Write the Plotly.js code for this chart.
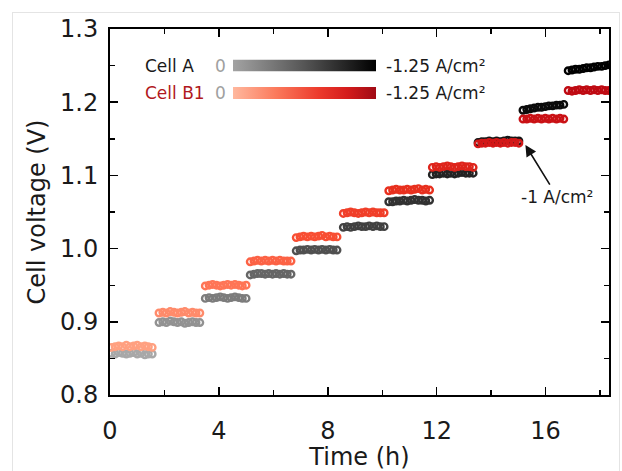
<!DOCTYPE html>
<html>
<head>
<meta charset="utf-8">
<script src="https://cdn.plot.ly/plotly-3.0.1.min.js"></script>
<style>
html,body{margin:0;padding:0;background:#fff;overflow:hidden;}
#frame{position:absolute;left:12px;top:12px;width:608px;height:470px;border:1px solid #e4e4e4;box-sizing:border-box;}
#chart{position:absolute;left:0;top:0;width:622px;height:471px;}
</style>
</head>
<body>
<div id="frame"></div>
<div id="chart"></div>
<script>
// ---- data ----
const currentDensity = [0, -0.125, -0.25, -0.375, -0.5, -0.625, -0.75, -0.875, -1.0, -1.125, -1.25]; // A/cm2 per step
const stepStart = [0.05, 1.8, 3.5, 5.15, 6.84, 8.57, 10.24, 11.84, 13.52, 15.17, 16.83]; // h
const sampleOffsets = [0, 0.14, 0.27, 0.41, 0.55, 0.68, 0.82, 0.95, 1.09, 1.23, 1.36, 1.5]; // h within a step

const cellA = [
  [0.857,0.856,0.858,0.857,0.856,0.857,0.858,0.856,0.857,0.855,0.856,0.856],
  [0.899,0.900,0.899,0.901,0.900,0.899,0.900,0.898,0.899,0.900,0.899,0.899],
  [0.932,0.933,0.932,0.933,0.934,0.933,0.932,0.933,0.934,0.933,0.932,0.932],
  [0.964,0.965,0.966,0.966,0.965,0.966,0.965,0.966,0.965,0.966,0.965,0.965],
  [0.997,0.998,0.998,0.999,0.998,0.999,0.998,0.999,0.998,0.999,0.998,0.998],
  [1.029,1.030,1.029,1.030,1.031,1.030,1.030,1.031,1.030,1.031,1.030,1.030],
  [1.064,1.064,1.065,1.065,1.066,1.065,1.066,1.067,1.066,1.066,1.065,1.066],
  [1.101,1.102,1.102,1.103,1.102,1.103,1.102,1.103,1.104,1.103,1.103,1.103],
  [1.145,1.146,1.146,1.147,1.146,1.147,1.146,1.147,1.148,1.147,1.147,1.147],
  [1.189,1.190,1.191,1.192,1.193,1.193,1.194,1.195,1.195,1.196,1.196,1.197],
  [1.243,1.244,1.245,1.245,1.246,1.247,1.247,1.248,1.249,1.249,1.250,1.251]
];
const cellB1 = [
  [0.865,0.866,0.867,0.866,0.868,0.866,0.867,0.868,0.866,0.867,0.866,0.865],
  [0.912,0.913,0.912,0.914,0.913,0.912,0.913,0.914,0.912,0.913,0.912,0.912],
  [0.949,0.950,0.951,0.950,0.949,0.950,0.951,0.950,0.951,0.950,0.949,0.950],
  [0.982,0.983,0.984,0.983,0.984,0.983,0.984,0.983,0.984,0.983,0.983,0.983],
  [1.015,1.016,1.017,1.016,1.017,1.016,1.017,1.018,1.016,1.017,1.016,1.016],
  [1.048,1.049,1.050,1.049,1.048,1.049,1.050,1.049,1.050,1.049,1.049,1.049],
  [1.079,1.080,1.081,1.080,1.080,1.081,1.080,1.081,1.082,1.080,1.081,1.080],
  [1.111,1.112,1.111,1.112,1.113,1.112,1.111,1.112,1.113,1.112,1.112,1.111],
  [1.143,1.144,1.144,1.145,1.144,1.145,1.144,1.145,1.144,1.145,1.145,1.144],
  [1.177,1.177,1.178,1.177,1.178,1.177,1.178,1.177,1.178,1.177,1.178,1.177],
  [1.216,1.215,1.216,1.217,1.216,1.217,1.216,1.217,1.216,1.217,1.216,1.216]
];

const xTickVals = [0, 4, 8, 12, 16];
const yTickVals = [0.8, 0.9, 1.0, 1.1, 1.2, 1.3];
const yTickText = ['0.8', '0.9', '1.0', '1.1', '1.2', '1.3'];

// ---- build traces ----
function flatten(series) {
  const x = [], y = [], c = [];
  series.forEach((vals, i) => {
    vals.forEach((v, j) => {
      x.push(stepStart[i] + sampleOffsets[j]);
      y.push(v);
      c.push(currentDensity[i]);
    });
  });
  return {x, y, c};
}
const A = flatten(cellA);
const B = flatten(cellB1);

const FONT = 'DejaVu Sans, Verdana, sans-serif';

const traceA = {
  type: 'scatter', mode: 'markers', name: 'Cell A',
  x: A.x, y: A.y, cliponaxis: true,
  marker: {
    symbol: 'circle-open', size: 6.5,
    color: A.c, cmin: -1.25, cmax: 0,
    colorscale: [[0, '#000000'], [0.25, '#1c1c1c'], [0.6, '#505050'], [1, '#a8a8a8']],
    line: {width: 2.4}
  },
  showlegend: false
};
const traceB = {
  type: 'scatter', mode: 'markers', name: 'Cell B1',
  x: B.x, y: B.y, cliponaxis: true,
  marker: {
    symbol: 'circle-open', size: 6.5,
    color: B.c, cmin: -1.25, cmax: 0,
    colorscale: [[0, '#bf0a12'], [0.2, '#d41818'], [0.4, '#e8301e'], [0.6, '#f84e33'], [0.8, '#ff7556'], [1, '#ffa080']],
    line: {width: 2.4}
  },
  showlegend: false
};

// ---- layout ----
const L = 110, R = 609, T = 29, B0 = 395;
const W = 622, H = 471;
const px = v => (v - L) / (R - L);
const py = v => (B0 - v) / (B0 - T);

function gradSvg(stops) {
  let s = '<svg xmlns="http://www.w3.org/2000/svg" width="200" height="20" preserveAspectRatio="none"><defs><linearGradient id="g" x1="0" y1="0" x2="1" y2="0">';
  stops.forEach(st => { s += '<stop offset="' + st[0] + '" stop-color="' + st[1] + '"/>'; });
  s += '</linearGradient></defs><rect x="0" y="0" width="200" height="20" fill="url(#g)"/></svg>';
  return 'data:image/svg+xml;base64,' + btoa(s);
}

const legFont = {family: FONT, size: 17, color: '#1a1a1a'};
const annotations = [
  {xref: 'paper', yref: 'paper', x: px(143), y: py(66), xanchor: 'left', yanchor: 'middle', text: 'Cell A', showarrow: false, font: legFont},
  {xref: 'paper', yref: 'paper', x: px(220), y: py(66), xanchor: 'center', yanchor: 'middle', text: '0', showarrow: false, font: {family: FONT, size: 17, color: '#a0a0a0'}},
  {xref: 'paper', yref: 'paper', x: px(384), y: py(66), xanchor: 'left', yanchor: 'middle', text: '-1.25 A/cm²', showarrow: false, font: legFont},
  {xref: 'paper', yref: 'paper', x: px(143), y: py(93), xanchor: 'left', yanchor: 'middle', text: 'Cell B1', showarrow: false, font: {family: FONT, size: 17, color: '#b01820'}},
  {xref: 'paper', yref: 'paper', x: px(220), y: py(93), xanchor: 'center', yanchor: 'middle', text: '0', showarrow: false, font: {family: FONT, size: 17, color: '#a0a0a0'}},
  {xref: 'paper', yref: 'paper', x: px(384), y: py(93), xanchor: 'left', yanchor: 'middle', text: '-1.25 A/cm²', showarrow: false, font: legFont},
  {xref: 'x', yref: 'y', x: 15.26, y: 1.1415, ax: 32, ay: 52, text: '-1 A/cm²', showarrow: true,
   arrowhead: 2, arrowsize: 1.4, arrowwidth: 1.6, arrowcolor: '#111', standoff: 0, startstandoff: 1,
   font: {family: FONT, size: 17, color: '#1a1a1a'}}
];

const images = [
  {source: gradSvg([[0, '#a3a3a3'], [0.5, '#555555'], [1, '#000000']]), xref: 'paper', yref: 'paper',
   x: px(233), y: py(59.5), sizex: px(376) - px(233), sizey: py(59.5) - py(71.5), xanchor: 'left', yanchor: 'top', sizing: 'stretch', layer: 'above'},
  {source: gradSvg([[0, '#ffb89e'], [0.3, '#fb7a5c'], [0.6, '#ec3a2c'], [0.8, '#d41c1c'], [1, '#a00a14']]), xref: 'paper', yref: 'paper',
   x: px(233), y: py(87), sizex: px(376) - px(233), sizey: py(87) - py(99), xanchor: 'left', yanchor: 'top', sizing: 'stretch', layer: 'above'}
];

const axisCommon = {
  showline: true, linecolor: '#000', linewidth: 2, mirror: 'ticks',
  ticks: 'inside', ticklen: 8, tickwidth: 1.6, tickcolor: '#000',
  showgrid: false, zeroline: false, automargin: false,
  tickfont: {family: FONT, size: 24, color: '#1a1a1a'}
};

const layout = {
  width: W, height: H,
  margin: {l: L, r: W - R, t: T, b: H - B0, pad: 0},
  paper_bgcolor: 'rgba(0,0,0,0)', plot_bgcolor: 'rgba(0,0,0,0)',
  showlegend: false,
  xaxis: Object.assign({}, axisCommon, {
    range: [0, 18.33], tickvals: xTickVals, ticktext: xTickVals.map(String),
    minor: {dtick: 2, tick0: 0, ticks: 'inside', ticklen: 5, tickwidth: 1.4, tickcolor: '#000', showgrid: false},
    ticklabelstandoff: 13,
    title: {text: 'Time (h)', font: {family: FONT, size: 24, color: '#1a1a1a'}, standoff: 7}
  }),
  yaxis: Object.assign({}, axisCommon, {
    range: [0.8, 1.3], tickvals: yTickVals, ticktext: yTickText,
    minor: {dtick: 0.05, tick0: 0.8, ticks: 'inside', ticklen: 5, tickwidth: 1.4, tickcolor: '#000', showgrid: false},
    ticklabelstandoff: 5,
    title: {text: 'Cell voltage (V)', font: {family: FONT, size: 24, color: '#1a1a1a'}, standoff: 8}
  }),
  annotations: annotations,
  images: images
};

Plotly.newPlot('chart', [traceA, traceB], layout, {staticPlot: true, displayModeBar: false});
</script>
</body>
</html>
